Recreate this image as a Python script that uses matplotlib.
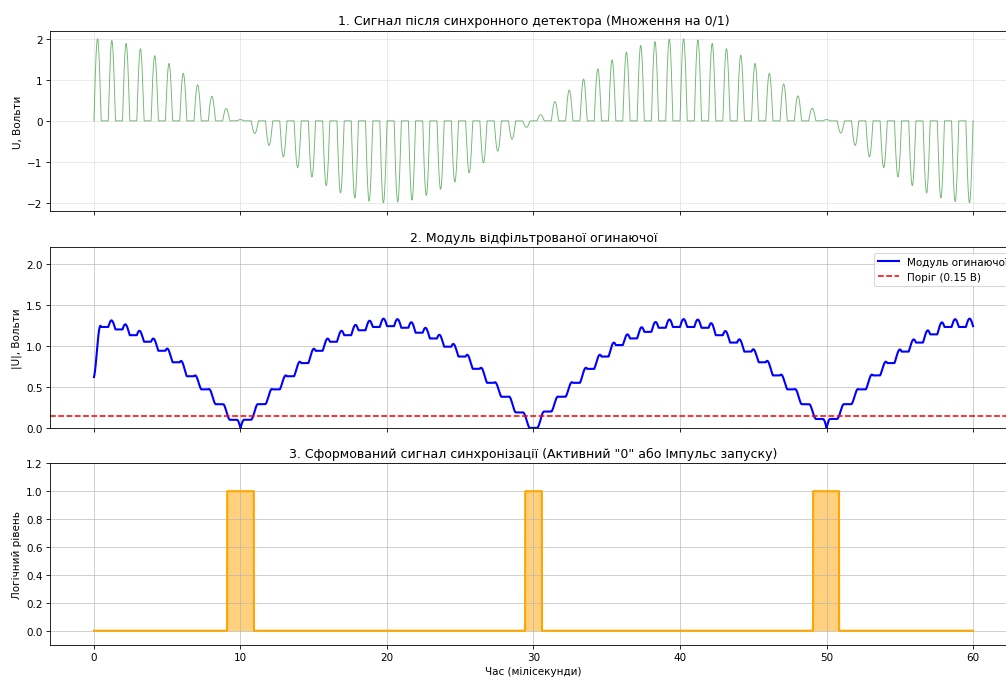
import numpy as np
import matplotlib
matplotlib.use("Agg")
import matplotlib.pyplot as plt

# ---------------- data ----------------
# Panel 1: detector output = train of half-sine pulses (period ~0.9756 ms)
PULSE_PERIOD = 0.9756   # ms
PULSE_WIDTH = 0.4878    # ms (gate "1" half of period)
pulse_peaks = [
    2.00, 1.96, 1.89, 1.76, 1.59, 1.40, 1.16, 0.88, 0.60, 0.30,
    0.03, -0.31, -0.60, -0.88, -1.14, -1.37, -1.58, -1.76, -1.88, -1.96,
    -2.00, -1.98, -1.93, -1.82, -1.67, -1.49, -1.27, -1.02, -0.74, -0.45,
    -0.16, 0.15, 0.47, 0.75, 1.02, 1.27, 1.49, 1.68, 1.84, 1.93,
    1.99, 2.00, 1.97, 1.89, 1.76, 1.60, 1.40, 1.16, 0.90, 0.61,
    0.31, 0.03, -0.30, -0.60, -0.88, -1.14, -1.37, -1.58, -1.76, -1.88,
    -1.97, -2.00,
]

# Panel 2: filtered (signed) envelope plateau after each pulse; plotted as |U|
env_start = 0.62
env_levels = [
    1.23, 1.20, 1.13, 1.05, 0.94, 0.80, 0.63, 0.47, 0.29, 0.10,
    -0.10, -0.29, -0.47, -0.63, -0.79, -0.94, -1.05, -1.13, -1.19, -1.23,
    -1.24, -1.22, -1.16, -1.09, -0.99, -0.87, -0.72, -0.55, -0.38, -0.19,
    0.00, 0.20, 0.38, 0.55, 0.72, 0.87, 1.01, 1.09, 1.17, 1.22,
    1.23, 1.23, 1.22, 1.13, 1.04, 0.93, 0.80, 0.64, 0.47, 0.29,
    0.11, -0.11, -0.29, -0.47, -0.64, -0.79, -0.93, -1.04, -1.14, -1.23,
    -1.23, -1.24,
]
ripple_gain = 0.048
threshold = 0.15

# Panel 3: sync pulses (start, end) in ms
sync_starts = [9.09, 29.43, 49.08]
sync_ends = [10.91, 30.57, 50.85]

t_end = 60.0
x_ticks = [0, 10, 20, 30, 40, 50, 60]
y1_ticks = [-2, -1, 0, 1, 2]
y2_ticks = [0.0, 0.5, 1.0, 1.5, 2.0]
y3_ticks = [0.0, 0.2, 0.4, 0.6, 0.8, 1.0, 1.2]

# ---------------- build curves ----------------
t = np.linspace(0, t_end, 12001)
peaks = np.array(pulse_peaks)
levels = np.array(env_levels)
prev_levels = np.concatenate([[env_start], levels[:-1]])

k = np.minimum(np.floor(t / PULSE_PERIOD).astype(int), len(peaks) - 1)
phase = t - k * PULSE_PERIOD
inside = (phase >= 0) & (phase < PULSE_WIDTH)
u = np.clip(phase / PULSE_WIDTH, 0, 1)

sig = np.where(inside, peaks[k] * np.sin(np.pi * u), 0.0)

env_signed = np.where(
    inside,
    prev_levels[k] + (levels[k] - prev_levels[k]) * (1 - np.cos(np.pi * u)) / 2
    + ripple_gain * peaks[k] * np.sin(np.pi * u),
    levels[k],
)
env = np.abs(env_signed)

sync = np.zeros_like(t)
for s, e in zip(sync_starts, sync_ends):
    sync[(t >= s) & (t <= e)] = 1.0

# ---------------- figure ----------------
W, H = 1007, 678
DPI = 75
fig = plt.figure(figsize=(W / DPI, H / DPI), dpi=DPI)
left = 50 / W
width = 967 / W
ax1 = fig.add_axes([left, 1 - 212 / H, width, (212 - 31.7) / H])
ax2 = fig.add_axes([left, 1 - 429 / H, width, (429 - 248.3) / H], sharex=ax1)
ax3 = fig.add_axes([left, 1 - 645.7 / H, width, (645.7 - 464.3) / H], sharex=ax1)

ax1.plot(t, sig, color="green", lw=0.9, alpha=0.55)
ax1.set_title("1. Сигнал після синхронного детектора (Множення на 0/1)")
ax1.set_ylabel("U, Вольти")
ax1.set_yticks(y1_ticks)
ax1.grid(True, alpha=0.3)

ax2.plot(t, env, color="blue", lw=2, label="Модуль огинаючої")
ax2.axhline(threshold, color="red", ls="--", lw=1.5, label="Поріг (0.15 В)")
ax2.set_title("2. Модуль відфільтрованої огинаючої")
ax2.set_ylabel("|U|, Вольти")
ax2.set_ylim(0, 2.2)
ax2.set_yticks(y2_ticks)
ax2.legend(loc="upper right")
ax2.grid(True, alpha=0.7)

ax3.plot(t, sync, color="orange", lw=2)
ax3.fill_between(t, 0, sync, color="orange", alpha=0.5, lw=0)
ax3.set_title('3. Сформований сигнал синхронізації (Активний "0" або Імпульс запуску)')
ax3.set_ylabel("Логічний рівень")
ax3.set_xlabel("Час (мілісекунди)")
ax3.set_ylim(-0.1, 1.2)
ax3.set_yticks(y3_ticks)
ax3.grid(True, alpha=0.7)

ax1.set_xlim(-3, 63)
ax3.set_xticks(x_ticks)
plt.setp(ax1.get_xticklabels(), visible=False)
plt.setp(ax2.get_xticklabels(), visible=False)

fig.savefig("out.png", dpi=DPI)
